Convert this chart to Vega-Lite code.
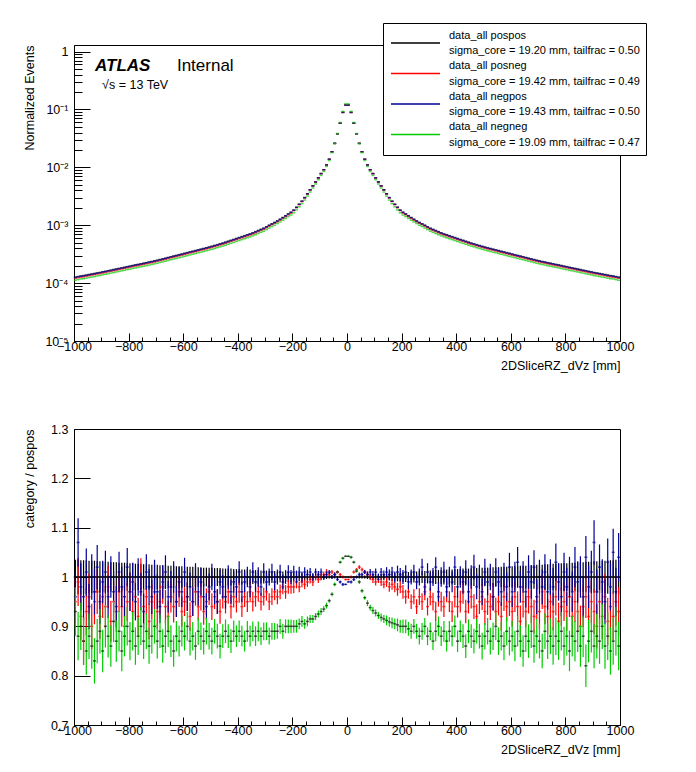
{
  "$schema": "https://vega.github.io/schema/vega-lite/v6.json",
  "padding": {"left": 22, "top": 22, "right": 5, "bottom": 5},
  "background": "white",
  "config": {
    "font": "Liberation Sans",
    "view": {"stroke": "black", "strokeWidth": 1},
    "axis": {
      "grid": false, "domainColor": "black", "domainWidth": 1, "tickColor": "black", "tickWidth": 1,
      "labelColor": "black", "labelFont": "Liberation Sans", "labelFontSize": 12.5,
      "titleFont": "Liberation Sans", "titleFontSize": 12.5, "titleFontWeight": "normal", "titleColor": "black",
      "labelOverlap": false, "labelFlush": false
    }
  },
  "datasets": {
    "bins": [
      {"x":-995,"pp":1.27e-4,"pn":1.21e-4,"np":1.25e-4,"nn":1.12e-4,"rpp":1,"rpn":0.95,"rnp":0.96,"rnn":0.93,"e0":0.035,"e":0.049},
      {"x":-985,"pp":1.30e-4,"pn":1.24e-4,"np":1.28e-4,"nn":1.15e-4,"rpp":1,"rpn":0.99,"rnp":1.07,"rnn":0.88,"e0":0.035,"e":0.049},
      {"x":-975,"pp":1.33e-4,"pn":1.26e-4,"np":1.31e-4,"nn":1.18e-4,"rpp":1,"rpn":0.92,"rnp":0.98,"rnn":0.90,"e0":0.034,"e":0.048},
      {"x":-965,"pp":1.35e-4,"pn":1.28e-4,"np":1.33e-4,"nn":1.19e-4,"rpp":1,"rpn":0.87,"rnp":0.96,"rnn":0.87,"e0":0.034,"e":0.048},
      {"x":-955,"pp":1.38e-4,"pn":1.31e-4,"np":1.36e-4,"nn":1.22e-4,"rpp":1,"rpn":0.93,"rnp":1.01,"rnn":0.85,"e0":0.034,"e":0.048},
      {"x":-945,"pp":1.41e-4,"pn":1.34e-4,"np":1.39e-4,"nn":1.25e-4,"rpp":1,"rpn":0.96,"rnp":0.94,"rnn":0.88,"e0":0.033,"e":0.046},
      {"x":-935,"pp":1.44e-4,"pn":1.37e-4,"np":1.42e-4,"nn":1.27e-4,"rpp":1,"rpn":0.90,"rnp":1.00,"rnn":0.86,"e0":0.033,"e":0.046},
      {"x":-925,"pp":1.47e-4,"pn":1.40e-4,"np":1.45e-4,"nn":1.30e-4,"rpp":1,"rpn":0.95,"rnp":0.97,"rnn":0.83,"e0":0.033,"e":0.046},
      {"x":-915,"pp":1.50e-4,"pn":1.43e-4,"np":1.48e-4,"nn":1.33e-4,"rpp":1,"rpn":0.97,"rnp":1.02,"rnn":0.87,"e0":0.032,"e":0.045},
      {"x":-905,"pp":1.53e-4,"pn":1.45e-4,"np":1.51e-4,"nn":1.35e-4,"rpp":1,"rpn":0.92,"rnp":0.95,"rnn":0.89,"e0":0.032,"e":0.045},
      {"x":-895,"pp":1.57e-4,"pn":1.49e-4,"np":1.55e-4,"nn":1.39e-4,"rpp":1,"rpn":0.96,"rnp":0.99,"rnn":0.85,"e0":0.031,"e":0.043},
      {"x":-885,"pp":1.60e-4,"pn":1.52e-4,"np":1.58e-4,"nn":1.42e-4,"rpp":1,"rpn":0.94,"rnp":1.01,"rnn":0.90,"e0":0.031,"e":0.043},
      {"x":-875,"pp":1.64e-4,"pn":1.56e-4,"np":1.62e-4,"nn":1.45e-4,"rpp":1,"rpn":0.98,"rnp":0.96,"rnn":0.88,"e0":0.031,"e":0.043},
      {"x":-865,"pp":1.68e-4,"pn":1.60e-4,"np":1.65e-4,"nn":1.49e-4,"rpp":1,"rpn":0.91,"rnp":1.00,"rnn":0.86,"e0":0.030,"e":0.042},
      {"x":-855,"pp":1.72e-4,"pn":1.63e-4,"np":1.69e-4,"nn":1.52e-4,"rpp":1,"rpn":0.95,"rnp":0.97,"rnn":0.91,"e0":0.030,"e":0.042},
      {"x":-845,"pp":1.76e-4,"pn":1.67e-4,"np":1.73e-4,"nn":1.56e-4,"rpp":1,"rpn":0.93,"rnp":0.94,"rnn":0.87,"e0":0.030,"e":0.042},
      {"x":-835,"pp":1.80e-4,"pn":1.71e-4,"np":1.77e-4,"nn":1.59e-4,"rpp":1,"rpn":0.97,"rnp":1.01,"rnn":0.89,"e0":0.029,"e":0.041},
      {"x":-825,"pp":1.84e-4,"pn":1.75e-4,"np":1.81e-4,"nn":1.63e-4,"rpp":1,"rpn":0.94,"rnp":0.98,"rnn":0.85,"e0":0.029,"e":0.041},
      {"x":-815,"pp":1.88e-4,"pn":1.79e-4,"np":1.85e-4,"nn":1.66e-4,"rpp":1,"rpn":0.90,"rnp":0.96,"rnn":0.88,"e0":0.029,"e":0.041},
      {"x":-805,"pp":1.93e-4,"pn":1.83e-4,"np":1.90e-4,"nn":1.71e-4,"rpp":1,"rpn":0.95,"rnp":1.02,"rnn":0.90,"e0":0.028,"e":0.039},
      {"x":-795,"pp":1.97e-4,"pn":1.87e-4,"np":1.94e-4,"nn":1.74e-4,"rpp":1,"rpn":0.97,"rnp":0.97,"rnn":0.87,"e0":0.028,"e":0.039},
      {"x":-785,"pp":2.02e-4,"pn":1.92e-4,"np":1.99e-4,"nn":1.79e-4,"rpp":1,"rpn":0.93,"rnp":0.99,"rnn":0.89,"e0":0.028,"e":0.039},
      {"x":-775,"pp":2.07e-4,"pn":1.97e-4,"np":2.04e-4,"nn":1.83e-4,"rpp":1,"rpn":0.96,"rnp":0.95,"rnn":0.86,"e0":0.027,"e":0.038},
      {"x":-765,"pp":2.11e-4,"pn":2.00e-4,"np":2.08e-4,"nn":1.87e-4,"rpp":1,"rpn":0.92,"rnp":1.00,"rnn":0.88,"e0":0.027,"e":0.038},
      {"x":-755,"pp":2.16e-4,"pn":2.05e-4,"np":2.13e-4,"nn":1.91e-4,"rpp":1,"rpn":1.00,"rnp":0.97,"rnn":0.90,"e0":0.027,"e":0.038},
      {"x":-745,"pp":2.21e-4,"pn":2.10e-4,"np":2.18e-4,"nn":1.96e-4,"rpp":1,"rpn":0.94,"rnp":0.93,"rnn":0.87,"e0":0.026,"e":0.036},
      {"x":-735,"pp":2.26e-4,"pn":2.15e-4,"np":2.23e-4,"nn":2.00e-4,"rpp":1,"rpn":0.96,"rnp":1.01,"rnn":0.89,"e0":0.026,"e":0.036},
      {"x":-725,"pp":2.32e-4,"pn":2.20e-4,"np":2.29e-4,"nn":2.05e-4,"rpp":1,"rpn":0.91,"rnp":0.98,"rnn":0.86,"e0":0.026,"e":0.036},
      {"x":-715,"pp":2.37e-4,"pn":2.25e-4,"np":2.33e-4,"nn":2.10e-4,"rpp":1,"rpn":0.95,"rnp":0.96,"rnn":0.88,"e0":0.025,"e":0.035},
      {"x":-705,"pp":2.43e-4,"pn":2.31e-4,"np":2.39e-4,"nn":2.15e-4,"rpp":1,"rpn":0.97,"rnp":1.00,"rnn":0.90,"e0":0.025,"e":0.035},
      {"x":-695,"pp":2.49e-4,"pn":2.37e-4,"np":2.45e-4,"nn":2.20e-4,"rpp":1,"rpn":0.93,"rnp":0.97,"rnn":0.87,"e0":0.025,"e":0.035},
      {"x":-685,"pp":2.56e-4,"pn":2.43e-4,"np":2.52e-4,"nn":2.27e-4,"rpp":1,"rpn":0.95,"rnp":0.94,"rnn":0.89,"e0":0.024,"e":0.034},
      {"x":-675,"pp":2.63e-4,"pn":2.50e-4,"np":2.59e-4,"nn":2.33e-4,"rpp":1,"rpn":0.98,"rnp":0.99,"rnn":0.86,"e0":0.024,"e":0.034},
      {"x":-665,"pp":2.70e-4,"pn":2.57e-4,"np":2.66e-4,"nn":2.39e-4,"rpp":1,"rpn":0.94,"rnp":1.01,"rnn":0.88,"e0":0.024,"e":0.034},
      {"x":-655,"pp":2.78e-4,"pn":2.64e-4,"np":2.74e-4,"nn":2.46e-4,"rpp":1,"rpn":0.92,"rnp":0.96,"rnn":0.89,"e0":0.023,"e":0.032},
      {"x":-645,"pp":2.86e-4,"pn":2.72e-4,"np":2.82e-4,"nn":2.53e-4,"rpp":1,"rpn":0.96,"rnp":0.98,"rnn":0.87,"e0":0.023,"e":0.032},
      {"x":-635,"pp":2.94e-4,"pn":2.79e-4,"np":2.90e-4,"nn":2.60e-4,"rpp":1,"rpn":0.94,"rnp":1.00,"rnn":0.85,"e0":0.023,"e":0.032},
      {"x":-625,"pp":3.02e-4,"pn":2.87e-4,"np":2.97e-4,"nn":2.67e-4,"rpp":1,"rpn":0.95,"rnp":0.95,"rnn":0.88,"e0":0.022,"e":0.031},
      {"x":-615,"pp":3.10e-4,"pn":2.95e-4,"np":3.05e-4,"nn":2.74e-4,"rpp":1,"rpn":0.97,"rnp":0.99,"rnn":0.87,"e0":0.022,"e":0.031},
      {"x":-605,"pp":3.19e-4,"pn":3.03e-4,"np":3.14e-4,"nn":2.82e-4,"rpp":1,"rpn":0.93,"rnp":0.97,"rnn":0.89,"e0":0.022,"e":0.031},
      {"x":-595,"pp":3.28e-4,"pn":3.12e-4,"np":3.23e-4,"nn":2.90e-4,"rpp":1,"rpn":0.95,"rnp":1.01,"rnn":0.88,"e0":0.021,"e":0.029},
      {"x":-585,"pp":3.37e-4,"pn":3.20e-4,"np":3.32e-4,"nn":2.98e-4,"rpp":1,"rpn":0.96,"rnp":0.96,"rnn":0.90,"e0":0.021,"e":0.029},
      {"x":-575,"pp":3.47e-4,"pn":3.30e-4,"np":3.42e-4,"nn":3.07e-4,"rpp":1,"rpn":0.92,"rnp":0.98,"rnn":0.87,"e0":0.021,"e":0.029},
      {"x":-565,"pp":3.56e-4,"pn":3.38e-4,"np":3.51e-4,"nn":3.15e-4,"rpp":1,"rpn":0.95,"rnp":0.95,"rnn":0.88,"e0":0.021,"e":0.029},
      {"x":-555,"pp":3.66e-4,"pn":3.48e-4,"np":3.61e-4,"nn":3.24e-4,"rpp":1,"rpn":0.97,"rnp":1.00,"rnn":0.86,"e0":0.020,"e":0.028},
      {"x":-545,"pp":3.77e-4,"pn":3.58e-4,"np":3.71e-4,"nn":3.34e-4,"rpp":1,"rpn":0.94,"rnp":0.97,"rnn":0.89,"e0":0.020,"e":0.028},
      {"x":-535,"pp":3.87e-4,"pn":3.68e-4,"np":3.81e-4,"nn":3.42e-4,"rpp":1,"rpn":0.96,"rnp":0.99,"rnn":0.88,"e0":0.020,"e":0.028},
      {"x":-525,"pp":3.98e-4,"pn":3.78e-4,"np":3.92e-4,"nn":3.52e-4,"rpp":1,"rpn":0.93,"rnp":0.96,"rnn":0.87,"e0":0.019,"e":0.027},
      {"x":-515,"pp":4.09e-4,"pn":3.89e-4,"np":4.03e-4,"nn":3.62e-4,"rpp":1,"rpn":0.95,"rnp":0.94,"rnn":0.89,"e0":0.019,"e":0.027},
      {"x":-505,"pp":4.21e-4,"pn":4.00e-4,"np":4.15e-4,"nn":3.73e-4,"rpp":1,"rpn":0.97,"rnp":0.98,"rnn":0.88,"e0":0.019,"e":0.027},
      {"x":-495,"pp":4.34e-4,"pn":4.12e-4,"np":4.27e-4,"nn":3.84e-4,"rpp":1,"rpn":0.94,"rnp":1.00,"rnn":0.87,"e0":0.019,"e":0.027},
      {"x":-485,"pp":4.48e-4,"pn":4.26e-4,"np":4.41e-4,"nn":3.96e-4,"rpp":1,"rpn":0.96,"rnp":0.97,"rnn":0.89,"e0":0.018,"e":0.025},
      {"x":-475,"pp":4.62e-4,"pn":4.39e-4,"np":4.55e-4,"nn":4.09e-4,"rpp":1,"rpn":0.95,"rnp":0.95,"rnn":0.88,"e0":0.018,"e":0.025},
      {"x":-465,"pp":4.78e-4,"pn":4.54e-4,"np":4.71e-4,"nn":4.23e-4,"rpp":1,"rpn":0.93,"rnp":0.99,"rnn":0.86,"e0":0.018,"e":0.025},
      {"x":-455,"pp":4.93e-4,"pn":4.68e-4,"np":4.86e-4,"nn":4.36e-4,"rpp":1,"rpn":0.96,"rnp":0.98,"rnn":0.88,"e0":0.017,"e":0.024},
      {"x":-445,"pp":5.11e-4,"pn":4.85e-4,"np":5.03e-4,"nn":4.52e-4,"rpp":1,"rpn":0.95,"rnp":0.96,"rnn":0.89,"e0":0.017,"e":0.024},
      {"x":-435,"pp":5.30e-4,"pn":5.04e-4,"np":5.22e-4,"nn":4.69e-4,"rpp":1,"rpn":0.97,"rnp":1.00,"rnn":0.88,"e0":0.017,"e":0.024},
      {"x":-425,"pp":5.50e-4,"pn":5.23e-4,"np":5.42e-4,"nn":4.87e-4,"rpp":1,"rpn":0.94,"rnp":0.97,"rnn":0.87,"e0":0.017,"e":0.024},
      {"x":-415,"pp":5.70e-4,"pn":5.42e-4,"np":5.61e-4,"nn":5.04e-4,"rpp":1,"rpn":0.96,"rnp":0.99,"rnn":0.89,"e0":0.016,"e":0.022},
      {"x":-405,"pp":5.92e-4,"pn":5.62e-4,"np":5.83e-4,"nn":5.24e-4,"rpp":1,"rpn":0.95,"rnp":0.98,"rnn":0.88,"e0":0.016,"e":0.022},
      {"x":-395,"pp":6.14e-4,"pn":5.83e-4,"np":6.05e-4,"nn":5.43e-4,"rpp":1,"rpn":0.97,"rnp":1.01,"rnn":0.89,"e0":0.016,"e":0.022},
      {"x":-385,"pp":6.37e-4,"pn":6.05e-4,"np":6.27e-4,"nn":5.64e-4,"rpp":1,"rpn":0.94,"rnp":0.97,"rnn":0.88,"e0":0.015,"e":0.021},
      {"x":-375,"pp":6.61e-4,"pn":6.28e-4,"np":6.51e-4,"nn":5.85e-4,"rpp":1,"rpn":0.96,"rnp":0.99,"rnn":0.87,"e0":0.015,"e":0.021},
      {"x":-365,"pp":6.86e-4,"pn":6.52e-4,"np":6.76e-4,"nn":6.07e-4,"rpp":1,"rpn":0.95,"rnp":1.00,"rnn":0.89,"e0":0.015,"e":0.021},
      {"x":-355,"pp":7.11e-4,"pn":6.75e-4,"np":7.00e-4,"nn":6.29e-4,"rpp":1,"rpn":0.97,"rnp":0.98,"rnn":0.88,"e0":0.015,"e":0.021},
      {"x":-345,"pp":7.41e-4,"pn":7.04e-4,"np":7.30e-4,"nn":6.56e-4,"rpp":1,"rpn":0.95,"rnp":1.01,"rnn":0.89,"e0":0.014,"e":0.020},
      {"x":-335,"pp":7.76e-4,"pn":7.37e-4,"np":7.64e-4,"nn":6.87e-4,"rpp":1,"rpn":0.96,"rnp":0.99,"rnn":0.88,"e0":0.014,"e":0.020},
      {"x":-325,"pp":8.13e-4,"pn":7.72e-4,"np":8.01e-4,"nn":7.20e-4,"rpp":1,"rpn":0.97,"rnp":1.00,"rnn":0.89,"e0":0.014,"e":0.020},
      {"x":-315,"pp":8.51e-4,"pn":8.08e-4,"np":8.38e-4,"nn":7.53e-4,"rpp":1,"rpn":0.95,"rnp":0.98,"rnn":0.88,"e0":0.013,"e":0.018},
      {"x":-305,"pp":8.91e-4,"pn":8.46e-4,"np":8.78e-4,"nn":7.89e-4,"rpp":1,"rpn":0.96,"rnp":1.01,"rnn":0.89,"e0":0.013,"e":0.018},
      {"x":-295,"pp":9.40e-4,"pn":9.02e-4,"np":9.35e-4,"nn":8.41e-4,"rpp":1,"rpn":0.97,"rnp":0.99,"rnn":0.89,"e0":0.013,"e":0.018},
      {"x":-285,"pp":9.98e-4,"pn":9.58e-4,"np":9.93e-4,"nn":8.93e-4,"rpp":1,"rpn":0.95,"rnp":1.00,"rnn":0.88,"e0":0.012,"e":0.017},
      {"x":-275,"pp":1.06e-3,"pn":1.02e-3,"np":1.05e-3,"nn":9.49e-4,"rpp":1,"rpn":0.96,"rnp":1.01,"rnn":0.89,"e0":0.012,"e":0.017},
      {"x":-265,"pp":1.12e-3,"pn":1.08e-3,"np":1.11e-3,"nn":1.00e-3,"rpp":1,"rpn":0.97,"rnp":0.99,"rnn":0.89,"e0":0.012,"e":0.017},
      {"x":-255,"pp":1.19e-3,"pn":1.14e-3,"np":1.18e-3,"nn":1.07e-3,"rpp":1,"rpn":0.96,"rnp":1.00,"rnn":0.89,"e0":0.011,"e":0.015},
      {"x":-245,"pp":1.27e-3,"pn":1.22e-3,"np":1.26e-3,"nn":1.14e-3,"rpp":1,"rpn":0.97,"rnp":1.01,"rnn":0.90,"e0":0.011,"e":0.015},
      {"x":-235,"pp":1.36e-3,"pn":1.31e-3,"np":1.35e-3,"nn":1.22e-3,"rpp":1,"rpn":0.98,"rnp":0.99,"rnn":0.89,"e0":0.011,"e":0.015},
      {"x":-225,"pp":1.46e-3,"pn":1.40e-3,"np":1.45e-3,"nn":1.31e-3,"rpp":1,"rpn":0.97,"rnp":1.00,"rnn":0.90,"e0":0.010,"e":0.014},
      {"x":-215,"pp":1.57e-3,"pn":1.51e-3,"np":1.56e-3,"nn":1.41e-3,"rpp":1,"rpn":0.98,"rnp":1.01,"rnn":0.90,"e0":0.010,"e":0.014},
      {"x":-205,"pp":1.68e-3,"pn":1.61e-3,"np":1.67e-3,"nn":1.50e-3,"rpp":1,"rpn":0.98,"rnp":1.00,"rnn":0.90,"e0":0.010,"e":0.014},
      {"x":-195,"pp":1.82e-3,"pn":1.79e-3,"np":1.82e-3,"nn":1.64e-3,"rpp":1,"rpn":0.98,"rnp":1.01,"rnn":0.90,"e0":0.009,"e":0.013},
      {"x":-185,"pp":2.04e-3,"pn":2.01e-3,"np":2.04e-3,"nn":1.84e-3,"rpp":1,"rpn":0.99,"rnp":1.00,"rnn":0.90,"e0":0.009,"e":0.013},
      {"x":-175,"pp":2.30e-3,"pn":2.27e-3,"np":2.30e-3,"nn":2.08e-3,"rpp":1,"rpn":0.98,"rnp":1.01,"rnn":0.905,"e0":0.008,"e":0.011},
      {"x":-165,"pp":2.60e-3,"pn":2.56e-3,"np":2.60e-3,"nn":2.36e-3,"rpp":1,"rpn":0.99,"rnp":1.00,"rnn":0.91,"e0":0.008,"e":0.011},
      {"x":-155,"pp":3.00e-3,"pn":2.96e-3,"np":3.00e-3,"nn":2.72e-3,"rpp":1,"rpn":0.985,"rnp":1.01,"rnn":0.905,"e0":0.007,"e":0.010},
      {"x":-145,"pp":3.50e-3,"pn":3.45e-3,"np":3.50e-3,"nn":3.19e-3,"rpp":1,"rpn":0.99,"rnp":1.005,"rnn":0.91,"e0":0.007,"e":0.010},
      {"x":-135,"pp":4.10e-3,"pn":4.04e-3,"np":4.10e-3,"nn":3.75e-3,"rpp":1,"rpn":0.995,"rnp":1.01,"rnn":0.915,"e0":0.006,"e":0.008},
      {"x":-125,"pp":4.80e-3,"pn":4.74e-3,"np":4.80e-3,"nn":4.40e-3,"rpp":1,"rpn":0.99,"rnp":1.00,"rnn":0.915,"e0":0.006,"e":0.008},
      {"x":-115,"pp":5.60e-3,"pn":5.55e-3,"np":5.60e-3,"nn":5.16e-3,"rpp":1,"rpn":1.0,"rnp":1.01,"rnn":0.92,"e0":0.005,"e":0.007},
      {"x":-105,"pp":6.60e-3,"pn":6.55e-3,"np":6.60e-3,"nn":6.11e-3,"rpp":1,"rpn":0.995,"rnp":1.005,"rnn":0.925,"e0":0.005,"e":0.007},
      {"x":-95,"pp":7.80e-3,"pn":7.80e-3,"np":7.80e-3,"nn":7.25e-3,"rpp":1,"rpn":1.0,"rnp":1.01,"rnn":0.93,"e0":0.005,"e":0.007},
      {"x":-85,"pp":9.10e-3,"pn":9.10e-3,"np":9.10e-3,"nn":8.51e-3,"rpp":1,"rpn":1.005,"rnp":1.0,"rnn":0.935,"e0":0.004,"e":0.006},
      {"x":-75,"pp":0.0110,"pn":0.0110,"np":0.0110,"nn":0.01036,"rpp":1,"rpn":1.01,"rnp":1.005,"rnn":0.942,"e0":0.004,"e":0.006},
      {"x":-65,"pp":0.0138,"pn":0.0138,"np":0.0138,"nn":0.01314,"rpp":1,"rpn":1.005,"rnp":1.01,"rnn":0.952,"e0":0.003,"e":0.004},
      {"x":-55,"pp":0.0186,"pn":0.0186,"np":0.0186,"nn":0.01795,"rpp":1,"rpn":1.01,"rnp":1.0,"rnn":0.965,"e0":0.003,"e":0.004},
      {"x":-45,"pp":0.026,"pn":0.026,"np":0.026,"nn":0.0256,"rpp":1,"rpn":1.005,"rnp":1.005,"rnn":0.985,"e0":0.003,"e":0.004},
      {"x":-35,"pp":0.038,"pn":0.038,"np":0.038,"nn":0.0384,"rpp":1,"rpn":1.01,"rnp":0.995,"rnn":1.01,"e0":0.002,"e":0.003},
      {"x":-25,"pp":0.058,"pn":0.058,"np":0.058,"nn":0.0597,"rpp":1,"rpn":1.005,"rnp":0.99,"rnn":1.03,"e0":0.002,"e":0.003},
      {"x":-15,"pp":0.089,"pn":0.089,"np":0.089,"nn":0.0926,"rpp":1,"rpn":1.0,"rnp":0.985,"rnn":1.038,"e0":0.002,"e":0.003},
      {"x":-5,"pp":0.120,"pn":0.120,"np":0.119,"nn":0.125,"rpp":1,"rpn":0.995,"rnp":0.985,"rnn":1.042,"e0":0.001,"e":0.0014},
      {"x":5,"pp":0.120,"pn":0.120,"np":0.119,"nn":0.125,"rpp":1,"rpn":0.995,"rnp":0.99,"rnn":1.042,"e0":0.001,"e":0.0014},
      {"x":15,"pp":0.089,"pn":0.089,"np":0.089,"nn":0.0926,"rpp":1,"rpn":1.0,"rnp":0.99,"rnn":1.04,"e0":0.002,"e":0.003},
      {"x":25,"pp":0.058,"pn":0.058,"np":0.058,"nn":0.0597,"rpp":1,"rpn":1.01,"rnp":0.995,"rnn":1.03,"e0":0.002,"e":0.003},
      {"x":35,"pp":0.038,"pn":0.038,"np":0.038,"nn":0.0384,"rpp":1,"rpn":1.015,"rnp":1.0,"rnn":1.012,"e0":0.002,"e":0.003},
      {"x":45,"pp":0.026,"pn":0.026,"np":0.026,"nn":0.0256,"rpp":1,"rpn":1.02,"rnp":1.005,"rnn":0.99,"e0":0.003,"e":0.004},
      {"x":55,"pp":0.0186,"pn":0.0186,"np":0.0186,"nn":0.01795,"rpp":1,"rpn":1.015,"rnp":1.005,"rnn":0.972,"e0":0.003,"e":0.004},
      {"x":65,"pp":0.0138,"pn":0.0138,"np":0.0138,"nn":0.01314,"rpp":1,"rpn":1.01,"rnp":1.01,"rnn":0.958,"e0":0.003,"e":0.004},
      {"x":75,"pp":0.0110,"pn":0.0110,"np":0.0110,"nn":0.01036,"rpp":1,"rpn":1.005,"rnp":1.005,"rnn":0.947,"e0":0.004,"e":0.006},
      {"x":85,"pp":9.10e-3,"pn":9.10e-3,"np":9.10e-3,"nn":8.51e-3,"rpp":1,"rpn":1.0,"rnp":1.01,"rnn":0.938,"e0":0.004,"e":0.006},
      {"x":95,"pp":7.80e-3,"pn":7.80e-3,"np":7.80e-3,"nn":7.25e-3,"rpp":1,"rpn":0.995,"rnp":1.005,"rnn":0.932,"e0":0.005,"e":0.007},
      {"x":105,"pp":6.60e-3,"pn":6.55e-3,"np":6.60e-3,"nn":6.11e-3,"rpp":1,"rpn":0.99,"rnp":1.01,"rnn":0.927,"e0":0.005,"e":0.007},
      {"x":115,"pp":5.60e-3,"pn":5.55e-3,"np":5.60e-3,"nn":5.16e-3,"rpp":1,"rpn":0.995,"rnp":1.0,"rnn":0.922,"e0":0.005,"e":0.007},
      {"x":125,"pp":4.80e-3,"pn":4.74e-3,"np":4.80e-3,"nn":4.40e-3,"rpp":1,"rpn":0.99,"rnp":1.01,"rnn":0.918,"e0":0.006,"e":0.008},
      {"x":135,"pp":4.10e-3,"pn":4.04e-3,"np":4.10e-3,"nn":3.75e-3,"rpp":1,"rpn":0.985,"rnp":1.005,"rnn":0.915,"e0":0.006,"e":0.008},
      {"x":145,"pp":3.50e-3,"pn":3.45e-3,"np":3.50e-3,"nn":3.19e-3,"rpp":1,"rpn":0.99,"rnp":1.01,"rnn":0.912,"e0":0.007,"e":0.010},
      {"x":155,"pp":3.00e-3,"pn":2.96e-3,"np":3.00e-3,"nn":2.72e-3,"rpp":1,"rpn":0.98,"rnp":1.005,"rnn":0.909,"e0":0.007,"e":0.010},
      {"x":165,"pp":2.60e-3,"pn":2.56e-3,"np":2.60e-3,"nn":2.36e-3,"rpp":1,"rpn":0.985,"rnp":1.01,"rnn":0.907,"e0":0.008,"e":0.011},
      {"x":175,"pp":2.30e-3,"pn":2.27e-3,"np":2.30e-3,"nn":2.08e-3,"rpp":1,"rpn":0.98,"rnp":1.0,"rnn":0.905,"e0":0.008,"e":0.011},
      {"x":185,"pp":2.04e-3,"pn":2.01e-3,"np":2.04e-3,"nn":1.84e-3,"rpp":1,"rpn":0.975,"rnp":1.01,"rnn":0.903,"e0":0.009,"e":0.013},
      {"x":195,"pp":1.82e-3,"pn":1.79e-3,"np":1.82e-3,"nn":1.64e-3,"rpp":1,"rpn":0.98,"rnp":1.005,"rnn":0.9,"e0":0.009,"e":0.013},
      {"x":205,"pp":1.68e-3,"pn":1.61e-3,"np":1.67e-3,"nn":1.50e-3,"rpp":1,"rpn":0.97,"rnp":1.00,"rnn":0.90,"e0":0.010,"e":0.014},
      {"x":215,"pp":1.57e-3,"pn":1.51e-3,"np":1.56e-3,"nn":1.41e-3,"rpp":1,"rpn":0.96,"rnp":1.01,"rnn":0.90,"e0":0.010,"e":0.014},
      {"x":225,"pp":1.46e-3,"pn":1.40e-3,"np":1.45e-3,"nn":1.31e-3,"rpp":1,"rpn":0.97,"rnp":0.99,"rnn":0.895,"e0":0.010,"e":0.014},
      {"x":235,"pp":1.36e-3,"pn":1.31e-3,"np":1.35e-3,"nn":1.22e-3,"rpp":1,"rpn":0.95,"rnp":1.00,"rnn":0.89,"e0":0.011,"e":0.015},
      {"x":245,"pp":1.27e-3,"pn":1.22e-3,"np":1.26e-3,"nn":1.14e-3,"rpp":1,"rpn":0.96,"rnp":1.01,"rnn":0.90,"e0":0.011,"e":0.015},
      {"x":255,"pp":1.19e-3,"pn":1.14e-3,"np":1.18e-3,"nn":1.07e-3,"rpp":1,"rpn":0.94,"rnp":0.99,"rnn":0.89,"e0":0.011,"e":0.015},
      {"x":265,"pp":1.12e-3,"pn":1.08e-3,"np":1.11e-3,"nn":1.00e-3,"rpp":1,"rpn":0.96,"rnp":1.00,"rnn":0.88,"e0":0.012,"e":0.017},
      {"x":275,"pp":1.06e-3,"pn":1.02e-3,"np":1.05e-3,"nn":9.49e-4,"rpp":1,"rpn":0.95,"rnp":1.02,"rnn":0.89,"e0":0.012,"e":0.017},
      {"x":285,"pp":9.98e-4,"pn":9.58e-4,"np":9.93e-4,"nn":8.93e-4,"rpp":1,"rpn":0.97,"rnp":0.98,"rnn":0.90,"e0":0.012,"e":0.017},
      {"x":295,"pp":9.40e-4,"pn":9.02e-4,"np":9.35e-4,"nn":8.41e-4,"rpp":1,"rpn":0.94,"rnp":1.01,"rnn":0.88,"e0":0.013,"e":0.018},
      {"x":305,"pp":8.91e-4,"pn":8.46e-4,"np":8.78e-4,"nn":7.89e-4,"rpp":1,"rpn":0.96,"rnp":0.99,"rnn":0.89,"e0":0.013,"e":0.018},
      {"x":315,"pp":8.51e-4,"pn":8.08e-4,"np":8.38e-4,"nn":7.53e-4,"rpp":1,"rpn":0.95,"rnp":1.00,"rnn":0.87,"e0":0.013,"e":0.018},
      {"x":325,"pp":8.13e-4,"pn":7.72e-4,"np":8.01e-4,"nn":7.20e-4,"rpp":1,"rpn":0.93,"rnp":1.02,"rnn":0.89,"e0":0.014,"e":0.020},
      {"x":335,"pp":7.76e-4,"pn":7.37e-4,"np":7.64e-4,"nn":6.87e-4,"rpp":1,"rpn":0.96,"rnp":0.97,"rnn":0.90,"e0":0.014,"e":0.020},
      {"x":345,"pp":7.41e-4,"pn":7.04e-4,"np":7.30e-4,"nn":6.56e-4,"rpp":1,"rpn":0.95,"rnp":1.00,"rnn":0.88,"e0":0.014,"e":0.020},
      {"x":355,"pp":7.11e-4,"pn":6.75e-4,"np":7.00e-4,"nn":6.29e-4,"rpp":1,"rpn":0.94,"rnp":1.01,"rnn":0.89,"e0":0.015,"e":0.021},
      {"x":365,"pp":6.86e-4,"pn":6.52e-4,"np":6.76e-4,"nn":6.07e-4,"rpp":1,"rpn":0.97,"rnp":0.98,"rnn":0.87,"e0":0.015,"e":0.021},
      {"x":375,"pp":6.61e-4,"pn":6.28e-4,"np":6.51e-4,"nn":5.85e-4,"rpp":1,"rpn":0.95,"rnp":1.00,"rnn":0.89,"e0":0.015,"e":0.021},
      {"x":385,"pp":6.37e-4,"pn":6.05e-4,"np":6.27e-4,"nn":5.64e-4,"rpp":1,"rpn":0.93,"rnp":0.99,"rnn":0.88,"e0":0.015,"e":0.021},
      {"x":395,"pp":6.14e-4,"pn":5.83e-4,"np":6.05e-4,"nn":5.43e-4,"rpp":1,"rpn":0.96,"rnp":1.02,"rnn":0.90,"e0":0.016,"e":0.022},
      {"x":405,"pp":5.92e-4,"pn":5.62e-4,"np":5.83e-4,"nn":5.24e-4,"rpp":1,"rpn":0.94,"rnp":0.98,"rnn":0.87,"e0":0.016,"e":0.022},
      {"x":415,"pp":5.70e-4,"pn":5.42e-4,"np":5.61e-4,"nn":5.04e-4,"rpp":1,"rpn":0.95,"rnp":1.00,"rnn":0.89,"e0":0.016,"e":0.022},
      {"x":425,"pp":5.50e-4,"pn":5.23e-4,"np":5.42e-4,"nn":4.87e-4,"rpp":1,"rpn":0.97,"rnp":0.99,"rnn":0.88,"e0":0.017,"e":0.024},
      {"x":435,"pp":5.30e-4,"pn":5.04e-4,"np":5.22e-4,"nn":4.69e-4,"rpp":1,"rpn":0.93,"rnp":1.01,"rnn":0.86,"e0":0.017,"e":0.024},
      {"x":445,"pp":5.11e-4,"pn":4.85e-4,"np":5.03e-4,"nn":4.52e-4,"rpp":1,"rpn":0.95,"rnp":0.97,"rnn":0.89,"e0":0.017,"e":0.024},
      {"x":455,"pp":4.93e-4,"pn":4.68e-4,"np":4.86e-4,"nn":4.36e-4,"rpp":1,"rpn":0.96,"rnp":1.00,"rnn":0.88,"e0":0.017,"e":0.024},
      {"x":465,"pp":4.78e-4,"pn":4.54e-4,"np":4.71e-4,"nn":4.23e-4,"rpp":1,"rpn":0.94,"rnp":1.02,"rnn":0.87,"e0":0.018,"e":0.025},
      {"x":475,"pp":4.62e-4,"pn":4.39e-4,"np":4.55e-4,"nn":4.09e-4,"rpp":1,"rpn":0.92,"rnp":0.98,"rnn":0.89,"e0":0.018,"e":0.025},
      {"x":485,"pp":4.48e-4,"pn":4.26e-4,"np":4.41e-4,"nn":3.96e-4,"rpp":1,"rpn":0.95,"rnp":1.00,"rnn":0.88,"e0":0.018,"e":0.025},
      {"x":495,"pp":4.34e-4,"pn":4.12e-4,"np":4.27e-4,"nn":3.84e-4,"rpp":1,"rpn":0.96,"rnp":0.97,"rnn":0.86,"e0":0.019,"e":0.027},
      {"x":505,"pp":4.21e-4,"pn":4.00e-4,"np":4.15e-4,"nn":3.73e-4,"rpp":1,"rpn":0.93,"rnp":1.01,"rnn":0.88,"e0":0.019,"e":0.027},
      {"x":515,"pp":4.09e-4,"pn":3.89e-4,"np":4.03e-4,"nn":3.62e-4,"rpp":1,"rpn":0.95,"rnp":0.99,"rnn":0.89,"e0":0.019,"e":0.027},
      {"x":525,"pp":3.98e-4,"pn":3.78e-4,"np":3.92e-4,"nn":3.52e-4,"rpp":1,"rpn":0.94,"rnp":1.00,"rnn":0.87,"e0":0.019,"e":0.027},
      {"x":535,"pp":3.87e-4,"pn":3.68e-4,"np":3.81e-4,"nn":3.42e-4,"rpp":1,"rpn":0.96,"rnp":0.96,"rnn":0.88,"e0":0.020,"e":0.028},
      {"x":545,"pp":3.77e-4,"pn":3.58e-4,"np":3.71e-4,"nn":3.34e-4,"rpp":1,"rpn":0.93,"rnp":1.01,"rnn":0.90,"e0":0.020,"e":0.028},
      {"x":555,"pp":3.66e-4,"pn":3.48e-4,"np":3.61e-4,"nn":3.24e-4,"rpp":1,"rpn":0.95,"rnp":0.99,"rnn":0.87,"e0":0.020,"e":0.028},
      {"x":565,"pp":3.56e-4,"pn":3.38e-4,"np":3.51e-4,"nn":3.15e-4,"rpp":1,"rpn":0.92,"rnp":0.97,"rnn":0.88,"e0":0.021,"e":0.029},
      {"x":575,"pp":3.47e-4,"pn":3.30e-4,"np":3.42e-4,"nn":3.07e-4,"rpp":1,"rpn":0.96,"rnp":1.00,"rnn":0.86,"e0":0.021,"e":0.029},
      {"x":585,"pp":3.37e-4,"pn":3.20e-4,"np":3.32e-4,"nn":2.98e-4,"rpp":1,"rpn":0.94,"rnp":0.98,"rnn":0.89,"e0":0.021,"e":0.029},
      {"x":595,"pp":3.28e-4,"pn":3.12e-4,"np":3.23e-4,"nn":2.90e-4,"rpp":1,"rpn":0.95,"rnp":1.02,"rnn":0.87,"e0":0.021,"e":0.029},
      {"x":605,"pp":3.19e-4,"pn":3.03e-4,"np":3.14e-4,"nn":2.82e-4,"rpp":1,"rpn":0.93,"rnp":0.97,"rnn":0.88,"e0":0.022,"e":0.031},
      {"x":615,"pp":3.10e-4,"pn":2.95e-4,"np":3.05e-4,"nn":2.74e-4,"rpp":1,"rpn":0.96,"rnp":1.00,"rnn":0.86,"e0":0.022,"e":0.031},
      {"x":625,"pp":3.02e-4,"pn":2.87e-4,"np":2.97e-4,"nn":2.67e-4,"rpp":1,"rpn":0.94,"rnp":1.03,"rnn":0.89,"e0":0.022,"e":0.031},
      {"x":635,"pp":2.94e-4,"pn":2.79e-4,"np":2.90e-4,"nn":2.60e-4,"rpp":1,"rpn":0.91,"rnp":0.98,"rnn":0.87,"e0":0.023,"e":0.032},
      {"x":645,"pp":2.86e-4,"pn":2.72e-4,"np":2.82e-4,"nn":2.53e-4,"rpp":1,"rpn":0.95,"rnp":1.00,"rnn":0.85,"e0":0.023,"e":0.032},
      {"x":655,"pp":2.78e-4,"pn":2.64e-4,"np":2.74e-4,"nn":2.46e-4,"rpp":1,"rpn":0.93,"rnp":0.97,"rnn":0.88,"e0":0.023,"e":0.032},
      {"x":665,"pp":2.70e-4,"pn":2.57e-4,"np":2.66e-4,"nn":2.39e-4,"rpp":1,"rpn":0.96,"rnp":1.01,"rnn":0.87,"e0":0.024,"e":0.034},
      {"x":675,"pp":2.63e-4,"pn":2.50e-4,"np":2.59e-4,"nn":2.33e-4,"rpp":1,"rpn":0.94,"rnp":0.99,"rnn":0.89,"e0":0.024,"e":0.034},
      {"x":685,"pp":2.56e-4,"pn":2.43e-4,"np":2.52e-4,"nn":2.27e-4,"rpp":1,"rpn":0.92,"rnp":1.02,"rnn":0.86,"e0":0.024,"e":0.034},
      {"x":695,"pp":2.49e-4,"pn":2.37e-4,"np":2.45e-4,"nn":2.20e-4,"rpp":1,"rpn":0.95,"rnp":0.96,"rnn":0.88,"e0":0.025,"e":0.035},
      {"x":705,"pp":2.43e-4,"pn":2.31e-4,"np":2.39e-4,"nn":2.15e-4,"rpp":1,"rpn":0.93,"rnp":1.00,"rnn":0.87,"e0":0.025,"e":0.035},
      {"x":715,"pp":2.37e-4,"pn":2.25e-4,"np":2.33e-4,"nn":2.10e-4,"rpp":1,"rpn":0.97,"rnp":0.98,"rnn":0.85,"e0":0.025,"e":0.035},
      {"x":725,"pp":2.32e-4,"pn":2.20e-4,"np":2.29e-4,"nn":2.05e-4,"rpp":1,"rpn":0.94,"rnp":1.01,"rnn":0.89,"e0":0.026,"e":0.036},
      {"x":735,"pp":2.26e-4,"pn":2.15e-4,"np":2.23e-4,"nn":2.00e-4,"rpp":1,"rpn":0.92,"rnp":0.97,"rnn":0.87,"e0":0.026,"e":0.036},
      {"x":745,"pp":2.21e-4,"pn":2.10e-4,"np":2.18e-4,"nn":1.96e-4,"rpp":1,"rpn":0.95,"rnp":1.00,"rnn":0.88,"e0":0.026,"e":0.036},
      {"x":755,"pp":2.16e-4,"pn":2.05e-4,"np":2.13e-4,"nn":1.91e-4,"rpp":1,"rpn":0.93,"rnp":0.98,"rnn":0.86,"e0":0.027,"e":0.038},
      {"x":765,"pp":2.11e-4,"pn":2.00e-4,"np":2.08e-4,"nn":1.87e-4,"rpp":1,"rpn":0.96,"rnp":1.03,"rnn":0.88,"e0":0.027,"e":0.038},
      {"x":775,"pp":2.07e-4,"pn":1.97e-4,"np":2.04e-4,"nn":1.83e-4,"rpp":1,"rpn":0.91,"rnp":0.99,"rnn":0.87,"e0":0.027,"e":0.038},
      {"x":785,"pp":2.02e-4,"pn":1.92e-4,"np":1.99e-4,"nn":1.79e-4,"rpp":1,"rpn":0.94,"rnp":0.96,"rnn":0.89,"e0":0.028,"e":0.039},
      {"x":795,"pp":1.97e-4,"pn":1.87e-4,"np":1.94e-4,"nn":1.74e-4,"rpp":1,"rpn":0.95,"rnp":1.01,"rnn":0.86,"e0":0.028,"e":0.039},
      {"x":805,"pp":1.93e-4,"pn":1.83e-4,"np":1.90e-4,"nn":1.71e-4,"rpp":1,"rpn":0.93,"rnp":0.98,"rnn":0.88,"e0":0.028,"e":0.039},
      {"x":815,"pp":1.88e-4,"pn":1.79e-4,"np":1.85e-4,"nn":1.66e-4,"rpp":1,"rpn":0.96,"rnp":1.00,"rnn":0.85,"e0":0.029,"e":0.041},
      {"x":825,"pp":1.84e-4,"pn":1.75e-4,"np":1.81e-4,"nn":1.63e-4,"rpp":1,"rpn":0.92,"rnp":0.97,"rnn":0.88,"e0":0.029,"e":0.041},
      {"x":835,"pp":1.80e-4,"pn":1.71e-4,"np":1.77e-4,"nn":1.59e-4,"rpp":1,"rpn":0.95,"rnp":1.02,"rnn":0.87,"e0":0.029,"e":0.041},
      {"x":845,"pp":1.76e-4,"pn":1.67e-4,"np":1.73e-4,"nn":1.56e-4,"rpp":1,"rpn":0.93,"rnp":0.99,"rnn":0.89,"e0":0.030,"e":0.042},
      {"x":855,"pp":1.72e-4,"pn":1.63e-4,"np":1.69e-4,"nn":1.52e-4,"rpp":1,"rpn":0.90,"rnp":1.00,"rnn":0.86,"e0":0.030,"e":0.042},
      {"x":865,"pp":1.68e-4,"pn":1.60e-4,"np":1.65e-4,"nn":1.49e-4,"rpp":1,"rpn":0.94,"rnp":0.96,"rnn":0.88,"e0":0.030,"e":0.042},
      {"x":875,"pp":1.64e-4,"pn":1.56e-4,"np":1.62e-4,"nn":1.45e-4,"rpp":1,"rpn":0.96,"rnp":1.04,"rnn":0.82,"e0":0.031,"e":0.043},
      {"x":885,"pp":1.60e-4,"pn":1.52e-4,"np":1.58e-4,"nn":1.42e-4,"rpp":1,"rpn":0.92,"rnp":0.98,"rnn":0.87,"e0":0.031,"e":0.043},
      {"x":895,"pp":1.57e-4,"pn":1.49e-4,"np":1.55e-4,"nn":1.39e-4,"rpp":1,"rpn":0.95,"rnp":1.01,"rnn":0.89,"e0":0.031,"e":0.043},
      {"x":905,"pp":1.53e-4,"pn":1.45e-4,"np":1.51e-4,"nn":1.35e-4,"rpp":1,"rpn":0.93,"rnp":1.07,"rnn":0.86,"e0":0.032,"e":0.045},
      {"x":915,"pp":1.50e-4,"pn":1.43e-4,"np":1.48e-4,"nn":1.33e-4,"rpp":1,"rpn":0.90,"rnp":0.97,"rnn":0.88,"e0":0.032,"e":0.045},
      {"x":925,"pp":1.47e-4,"pn":1.40e-4,"np":1.45e-4,"nn":1.30e-4,"rpp":1,"rpn":0.95,"rnp":1.02,"rnn":0.87,"e0":0.033,"e":0.046},
      {"x":935,"pp":1.44e-4,"pn":1.37e-4,"np":1.42e-4,"nn":1.27e-4,"rpp":1,"rpn":0.92,"rnp":0.99,"rnn":0.90,"e0":0.033,"e":0.046},
      {"x":945,"pp":1.41e-4,"pn":1.34e-4,"np":1.39e-4,"nn":1.25e-4,"rpp":1,"rpn":0.96,"rnp":0.95,"rnn":0.86,"e0":0.033,"e":0.046},
      {"x":955,"pp":1.38e-4,"pn":1.31e-4,"np":1.36e-4,"nn":1.22e-4,"rpp":1,"rpn":0.91,"rnp":1.03,"rnn":0.88,"e0":0.034,"e":0.048},
      {"x":965,"pp":1.35e-4,"pn":1.28e-4,"np":1.33e-4,"nn":1.19e-4,"rpp":1,"rpn":0.94,"rnp":0.98,"rnn":0.85,"e0":0.034,"e":0.048},
      {"x":975,"pp":1.33e-4,"pn":1.26e-4,"np":1.31e-4,"nn":1.18e-4,"rpp":1,"rpn":0.92,"rnp":1.05,"rnn":0.87,"e0":0.034,"e":0.048},
      {"x":985,"pp":1.30e-4,"pn":1.24e-4,"np":1.28e-4,"nn":1.15e-4,"rpp":1,"rpn":0.95,"rnp":0.97,"rnn":0.89,"e0":0.035,"e":0.049},
      {"x":995,"pp":1.27e-4,"pn":1.21e-4,"np":1.25e-4,"nn":1.12e-4,"rpp":1,"rpn":0.93,"rnp":1.04,"rnn":0.86,"e0":0.035,"e":0.049}
    ]
  },
  "spacing": 49,
  "vconcat": [
    {
      "width": 546,
      "height": 296,
      "data": {"name": "bins"},
      "encoding": {
        "x": {
          "field": "x", "type": "quantitative",
          "scale": {"domain": [-1000, 1000], "nice": false, "zero": false},
          "axis": {
            "values": [-1000,-950,-900,-850,-800,-750,-700,-650,-600,-550,-500,-450,-400,-350,-300,-250,-200,-150,-100,-50,0,50,100,150,200,250,300,350,400,450,500,550,600,650,700,750,800,850,900,950,1000],
            "format": "d",
            "labelExpr": "datum.value % 200 === 0 ? datum.label : ''",
            "tickSize": {"condition": {"test": "datum.value % 200 === 0", "value": -8}, "value": -4},
            "labelPadding": 7, "labelOverlap": false, "labelFlush": false,
            "title": "2DSliceRZ_dVz [mm]", "titleAnchor": "end", "titlePadding": 3
          }
        }
      },
      "layer": [
        {
          "mark": {"type": "tick", "orient": "horizontal", "size": 3, "thickness": 1.5},
          "encoding": {
            "y": {
              "field": "pp", "type": "quantitative", "title": "Normalized Events",
              "scale": {"type": "log", "domain": [0.00001, 1.3], "nice": false},
              "axis": {
                "values": [0.00001,0.00002,0.00003,0.00004,0.00005,0.00006,0.00007,0.00008,0.00009,0.0001,0.0002,0.0003,0.0004,0.0005,0.0006,0.0007,0.0008,0.0009,0.001,0.002,0.003,0.004,0.005,0.006,0.007,0.008,0.009,0.01,0.02,0.03,0.04,0.05,0.06,0.07,0.08,0.09,0.1,0.2,0.3,0.4,0.5,0.6,0.7,0.8,0.9,1],
                "labelExpr": "abs(log(datum.value)/LN10 - round(log(datum.value)/LN10)) < 1e-6 ? (round(log(datum.value)/LN10) == 0 ? '1' : '10' + ['', '⁻¹', '⁻²', '⁻³', '⁻⁴', '⁻⁵'][-round(log(datum.value)/LN10)]) : ''",
                "tickSize": {"condition": {"test": "abs(log(datum.value)/LN10 - round(log(datum.value)/LN10)) < 1e-6", "value": -16}, "value": -8},
                "labelPadding": 22, "labelOverlap": false,
                "titleAnchor": "end", "titlePadding": 3, "minExtent": 35, "maxExtent": 35
              }
            },
            "color": {
              "datum": "data_all pospos", "type": "nominal",
              "scale": {"domain": ["data_all pospos", "data_all posneg", "data_all negpos", "data_all negneg"], "range": ["#000000", "#ff0000", "#000099", "#00cc00"]},
              "legend": {
                "orient": "none", "legendX": 309, "legendY": -22, "title": null,
                "symbolType": "M-1.75,-0.055H1.75V0.055H-1.75Z M0,-1.03V1.03", "symbolSize": 784, "symbolStrokeWidth": 0, "symbolOffset": 12.5, "symbolOpacity": 1,
                "labelFont": "Liberation Sans", "labelFontSize": 11, "labelColor": "black", "labelLimit": 320, "labelOffset": 19.5,
                "rowPadding": 0.5, "padding": 6, "fillColor": "white", "strokeColor": "black", "cornerRadius": 0,
                "encode": {"labels": {"update": {"lineHeight": {"value": 15.5}, "dy": {"value": -7.5}}}},
                "labelExpr": "datum.label == 'data_all pospos' ? ['data_all pospos', '\u00a0sigma_core = 19.20 mm, tailfrac = 0.50'] : datum.label == 'data_all posneg' ? ['data_all posneg', '\u00a0sigma_core = 19.42 mm, tailfrac = 0.49'] : datum.label == 'data_all negpos' ? ['data_all negpos', '\u00a0sigma_core = 19.43 mm, tailfrac = 0.50'] : ['data_all negneg', '\u00a0sigma_core = 19.09 mm, tailfrac = 0.47']"
              }
            }
          }
        },
        {
          "mark": {"type": "tick", "orient": "horizontal", "size": 3, "thickness": 1.5},
          "encoding": {"y": {"field": "pn", "type": "quantitative", "title": "Normalized Events"}, "color": {"datum": "data_all posneg", "type": "nominal"}}
        },
        {
          "mark": {"type": "tick", "orient": "horizontal", "size": 3, "thickness": 1.5},
          "encoding": {"y": {"field": "np", "type": "quantitative", "title": "Normalized Events"}, "color": {"datum": "data_all negpos", "type": "nominal"}}
        },
        {
          "mark": {"type": "tick", "orient": "horizontal", "size": 3, "thickness": 1.5},
          "encoding": {"y": {"field": "nn", "type": "quantitative", "title": "Normalized Events"}, "color": {"datum": "data_all negneg", "type": "nominal"}}
        },
        {
          "transform": [{"filter": "datum.x == -995"}],
          "mark": {"type": "text", "text": "ATLAS", "font": "Liberation Sans", "fontSize": 17, "fontWeight": "bold", "fontStyle": "italic", "align": "left", "baseline": "alphabetic", "fill": "black"},
          "encoding": {"x": {"datum": -923, "type": "quantitative"}, "y": {"datum": 0.464, "type": "quantitative"}}
        },
        {
          "transform": [{"filter": "datum.x == -995"}],
          "mark": {"type": "text", "text": "Internal", "font": "Liberation Sans", "fontSize": 17, "align": "left", "baseline": "alphabetic", "fill": "black"},
          "encoding": {"x": {"datum": -623, "type": "quantitative"}, "y": {"datum": 0.464, "type": "quantitative"}}
        },
        {
          "transform": [{"filter": "datum.x == -995"}],
          "mark": {"type": "text", "text": "√s = 13 TeV", "font": "Liberation Sans", "fontSize": 12.5, "align": "left", "baseline": "alphabetic", "fill": "black"},
          "encoding": {"x": {"datum": -897, "type": "quantitative"}, "y": {"datum": 0.2266, "type": "quantitative"}}
        }
      ]
    },
    {
      "width": 546,
      "height": 296,
      "data": {"name": "bins"},
      "encoding": {
        "x": {
          "field": "x", "type": "quantitative",
          "scale": {"domain": [-1000, 1000], "nice": false, "zero": false},
          "axis": {
            "values": [-1000,-950,-900,-850,-800,-750,-700,-650,-600,-550,-500,-450,-400,-350,-300,-250,-200,-150,-100,-50,0,50,100,150,200,250,300,350,400,450,500,550,600,650,700,750,800,850,900,950,1000],
            "format": "d",
            "labelExpr": "datum.value % 200 === 0 ? datum.label : ''",
            "tickSize": {"condition": {"test": "datum.value % 200 === 0", "value": -8}, "value": -4},
            "labelPadding": 7, "labelOverlap": false, "labelFlush": false,
            "title": "2DSliceRZ_dVz [mm]", "titleAnchor": "end", "titlePadding": 3
          }
        }
      },
      "layer": [
        {
          "mark": {"type": "tick", "orient": "horizontal", "size": 3, "thickness": 1.5, "color": "#000000"},
          "encoding": {
            "y": {
              "field": "rpp", "type": "quantitative", "title": "category / pospos",
              "scale": {"domain": [0.7, 1.3], "nice": false, "zero": false},
              "axis": {
                "values": [0.7, 0.8, 0.9, 1, 1.1, 1.2, 1.3],
                "format": ".1f",
                "labelExpr": "datum.label == '1.0' ? '1' : datum.label",
                "tickSize": -16,
                "labelPadding": 22,
                "titleAnchor": "end", "titlePadding": 3, "minExtent": 35, "maxExtent": 35
              }
            }
          }
        },
        {
          "mark": {"type": "errorbar", "ticks": false, "thickness": 1.2},
          "encoding": {"y": {"field": "rpp", "type": "quantitative", "title": "category / pospos"}, "yError": {"field": "e0"}, "color": {"value": "#000000"}}
        },
        {
          "mark": {"type": "errorbar", "ticks": false, "thickness": 1.2},
          "encoding": {"y": {"field": "rpn", "type": "quantitative", "title": "category / pospos"}, "yError": {"field": "e"}, "color": {"value": "#ff0000"}}
        },
        {
          "mark": {"type": "tick", "orient": "horizontal", "size": 3, "thickness": 1.5, "color": "#ff0000"},
          "encoding": {"y": {"field": "rpn", "type": "quantitative", "title": "category / pospos"}}
        },
        {
          "mark": {"type": "errorbar", "ticks": false, "thickness": 1.2},
          "encoding": {"y": {"field": "rnp", "type": "quantitative", "title": "category / pospos"}, "yError": {"field": "e"}, "color": {"value": "#000099"}}
        },
        {
          "mark": {"type": "tick", "orient": "horizontal", "size": 3, "thickness": 1.5, "color": "#000099"},
          "encoding": {"y": {"field": "rnp", "type": "quantitative", "title": "category / pospos"}}
        },
        {
          "mark": {"type": "errorbar", "ticks": false, "thickness": 1.2},
          "encoding": {"y": {"field": "rnn", "type": "quantitative", "title": "category / pospos"}, "yError": {"field": "e"}, "color": {"value": "#00cc00"}}
        },
        {
          "mark": {"type": "tick", "orient": "horizontal", "size": 3, "thickness": 1.5, "color": "#111111"},
          "encoding": {"y": {"field": "rnn", "type": "quantitative", "title": "category / pospos"}}
        },
        {
          "mark": {"type": "tick", "orient": "horizontal", "size": 3, "thickness": 1.5, "color": "#000000"},
          "encoding": {"y": {"field": "rpp", "type": "quantitative", "title": "category / pospos"}}
        }
      ]
    }
  ]
}
